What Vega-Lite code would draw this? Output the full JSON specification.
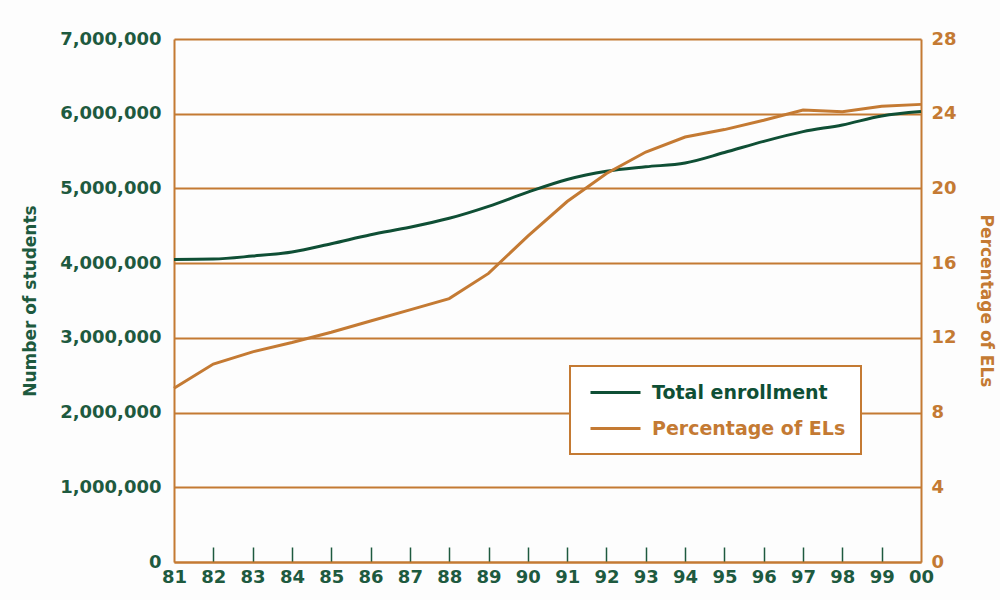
{
  "$schema": "https://vega.github.io/schema/vega-lite/v6.json",
  "width": 747,
  "height": 523,
  "autosize": {"type": "none"},
  "padding": {"left": 174, "top": 39, "right": 79, "bottom": 38},
  "background": "#fdfdfd",
  "config": {
    "font": "DejaVu Sans",
    "view": {"stroke": null},
    "axis": {
      "labelFont": "DejaVu Sans",
      "labelFontWeight": "bold",
      "labelFontSize": 18,
      "titleFont": "DejaVu Sans",
      "titleFontWeight": "bold",
      "titleFontSize": 17,
      "domainColor": "#c47a33",
      "domainWidth": 2
    }
  },
  "data": {
    "values": [
      {"year": 1981, "enrollment": 4050000, "pct": 9.3},
      {"year": 1982, "enrollment": 4055000, "pct": 10.6},
      {"year": 1983, "enrollment": 4095000, "pct": 11.25},
      {"year": 1984, "enrollment": 4150000, "pct": 11.75},
      {"year": 1985, "enrollment": 4260000, "pct": 12.3},
      {"year": 1986, "enrollment": 4380000, "pct": 12.9},
      {"year": 1987, "enrollment": 4480000, "pct": 13.5},
      {"year": 1988, "enrollment": 4600000, "pct": 14.1},
      {"year": 1989, "enrollment": 4760000, "pct": 15.45},
      {"year": 1990, "enrollment": 4950000, "pct": 17.45},
      {"year": 1991, "enrollment": 5120000, "pct": 19.3},
      {"year": 1992, "enrollment": 5230000, "pct": 20.8},
      {"year": 1993, "enrollment": 5290000, "pct": 21.95},
      {"year": 1994, "enrollment": 5340000, "pct": 22.75},
      {"year": 1995, "enrollment": 5480000, "pct": 23.15},
      {"year": 1996, "enrollment": 5630000, "pct": 23.65},
      {"year": 1997, "enrollment": 5760000, "pct": 24.2},
      {"year": 1998, "enrollment": 5850000, "pct": 24.1},
      {"year": 1999, "enrollment": 5970000, "pct": 24.4},
      {"year": 2000, "enrollment": 6030000, "pct": 24.5}
    ]
  },
  "encoding": {
    "x": {
      "field": "year",
      "type": "quantitative",
      "scale": {"domain": [1981, 2000], "nice": false, "zero": false},
      "axis": {
        "title": null,
        "grid": false,
        "values": [1981, 1982, 1983, 1984, 1985, 1986, 1987, 1988, 1989, 1990, 1991, 1992, 1993, 1994, 1995, 1996, 1997, 1998, 1999, 2000],
        "labelExpr": "substring(toString(datum.value), 2)",
        "labelColor": "#1e5a3f",
        "labelPadding": 21,
        "labelFlush": false,
        "labelOverlap": false,
        "labelBound": false,
        "tickSize": -15,
        "tickWidth": 1.5,
        "tickColor": {
          "condition": {"test": "datum.value == 1981 || datum.value == 2000", "value": "transparent"},
          "value": "#1e5a3f"
        }
      }
    }
  },
  "layer": [
    {
      "mark": {"type": "line", "strokeWidth": 3, "interpolate": "monotone"},
      "encoding": {
        "y": {
          "field": "enrollment",
          "type": "quantitative",
          "scale": {"domain": [0, 7000000], "nice": false},
          "axis": {
            "title": "Number of students",
            "titleColor": "#1e5a3f",
            "titlePadding": 20,
            "values": [0, 1000000, 2000000, 3000000, 4000000, 5000000, 6000000, 7000000],
            "labelExpr": "format(datum.value, ',')",
            "labelColor": "#1e5a3f",
            "labelPadding": 13,
            "ticks": false,
            "grid": true,
            "gridColor": "#c47a33",
            "gridWidth": 2,
            "gridOpacity": 1
          }
        },
        "color": {
          "datum": "Total enrollment",
          "type": "nominal",
          "scale": {
            "domain": ["Total enrollment", "Percentage of ELs"],
            "range": ["#0f4f35", "#c47a33"]
          },
          "legend": {
            "title": null,
            "orient": "none",
            "legendX": 396,
            "legendY": 327,
            "symbolType": "M-0.6,0L4.4,0",
            "symbolSize": 400,
            "symbolStrokeWidth": 3,
            "labelFont": "DejaVu Sans",
            "labelFontWeight": "bold",
            "labelFontSize": 19,
            "labelLimit": 400,
            "labelOffset": 44,
            "rowPadding": 14,
            "padding": 15,
            "strokeColor": "#c47a33",
            "fillColor": "#ffffff",
            "encode": {
              "legend": {"update": {"strokeWidth": {"value": 2}}},
              "labels": {"update": {"fill": {"scale": "color", "field": "value"}}}
            }
          }
        }
      }
    },
    {
      "mark": {"type": "line", "strokeWidth": 3},
      "encoding": {
        "y": {
          "field": "pct",
          "type": "quantitative",
          "scale": {"domain": [0, 28], "nice": false},
          "axis": {
            "orient": "right",
            "title": "Percentage of ELs",
            "titleColor": "#c47a33",
            "titlePadding": 20,
            "values": [0, 4, 8, 12, 16, 20, 24, 28],
            "labelColor": "#c47a33",
            "labelPadding": 10,
            "ticks": false,
            "grid": false
          }
        },
        "color": {"datum": "Percentage of ELs", "type": "nominal"}
      }
    }
  ],
  "resolve": {"scale": {"y": "independent"}}
}
